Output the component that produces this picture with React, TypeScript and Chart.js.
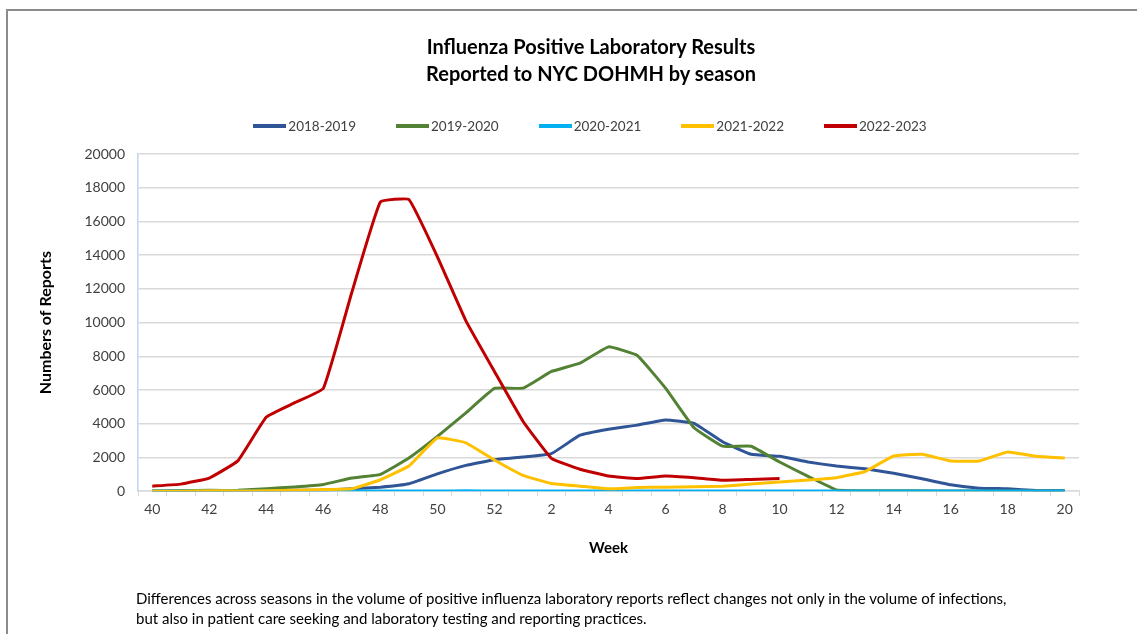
import React, { useEffect, useRef } from "react";
import { Chart, registerables } from "chart.js";

Chart.register(...registerables);

const weeks: string[] = [
  "40", "41", "42", "43", "44", "45", "46", "47", "48", "49", "50", "51", "52",
  "1", "2", "3", "4", "5", "6", "7", "8", "9", "10", "11", "12", "13", "14",
  "15", "16", "17", "18", "19", "20",
];

const s2018: (number | null)[] = [
  10, 20, 30, 30, 40, 50, 60, 140, 240, 440, 1030, 1530, 1870, 2030, 2230,
  3320, 3680, 3920, 4220, 4020, 2930, 2190, 2070, 1730, 1490, 1330, 1070, 740,
  380, 180, 140, 40, 20,
];

const s2019: (number | null)[] = [
  0, 20, 50, 50, 150, 250, 400, 780, 1000, 1970, 3250, 4650, 6100, 6110, 7100,
  7600, 8560, 8060, 6110, 3760, 2670, 2670, 1730, 880, 80, 30, 20, 20, 10, 10,
  10, 10, 10,
];

const s2020: (number | null)[] = [
  10, 10, 10, 10, 10, 10, 10, 10, 10, 10, 10, 20, 10, 10, 10, 10, 20, 10, 10,
  10, 10, 10, 10, 10, 10, 10, 10, 10, 10, 10, 10, 10, 10,
];

const s2021: (number | null)[] = [
  0, 0, 30, 10, 20, 50, 100, 140, 680, 1490, 3160, 2870, 1850, 940, 460, 300,
  140, 220, 240, 260, 300, 420, 540, 660, 800, 1170, 2090, 2190, 1790, 1790,
  2330, 2070, 1970,
];

const s2022: (number | null)[] = [
  300, 420, 780, 1800, 4400, 5250, 6100, 11800, 17150, 17300, 13900, 10100,
  7100, 4150, 1950, 1300, 900, 750, 900, 800, 650, 700, 750,
];

const seriesNames: string[] = ["2018-2019", "2019-2020", "2020-2021", "2021-2022", "2022-2023"];
const seriesColors: string[] = ["#2F5597", "#548235", "#00B0F0", "#FFC000", "#C00000"];
const seriesData = [s2018, s2019, s2020, s2021, s2022];

const yTicks: number[] = [0, 2000, 4000, 6000, 8000, 10000, 12000, 14000, 16000, 18000, 20000];

const titleLines: string[] = ["Influenza Positive Laboratory Results", "Reported to NYC DOHMH by season"];
const footnoteLines: string[] = [
  "Differences across seasons in the volume of positive influenza laboratory reports reflect changes not only in the volume of infections,",
  "but also in patient care seeking and laboratory testing and reporting practices.",
];

const FONT = "Lato, 'Open Sans', sans-serif";

export default function App() {
  const ref = useRef<HTMLCanvasElement | null>(null);

  useEffect(() => {
    if (!ref.current) return;
    const chart = new Chart(ref.current, {
      type: "line",
      data: {
        labels: weeks,
        datasets: seriesNames.map((name, i) => ({
          label: name,
          data: seriesData[i],
          borderColor: seriesColors[i],
          backgroundColor: seriesColors[i],
          borderWidth: 3,
          pointRadius: 0,
          pointHoverRadius: 0,
          tension: 0.1,
          fill: false,
          order: seriesNames.length - i,
        })),
      },
      options: {
        animation: false,
        responsive: false,
        maintainAspectRatio: false,
        layout: { padding: { left: 36, right: 58, top: 154, bottom: 77 } },
        plugins: {
          title: { display: false },
          legend: { display: false },
          tooltip: { enabled: false },
        },
        scales: {
          x: {
            offset: true,
            grid: {
              display: true,
              drawOnChartArea: false,
              drawTicks: true,
              tickLength: 5,
              color: "#D9D9D9",
              offset: true,
            },
            border: { display: true, color: "#D9D9D9", width: 1.5 },
            ticks: {
              autoSkip: false,
              maxRotation: 0,
              color: "#404040",
              font: { family: FONT, size: 14 },
              padding: 5,
              callback: function (_v: any, index: number) {
                return index % 2 === 0 ? weeks[index] : "";
              },
            },
            title: {
              display: true,
              text: "Week",
              color: "#000000",
              font: { family: FONT, size: 15, weight: "bold" },
              padding: { top: 16, bottom: 0 },
            },
          },
          y: {
            min: 0,
            max: 20000,
            afterBuildTicks: (scale: any) => {
              scale.ticks = yTicks.map((v) => ({ value: v }));
            },
            afterFit: (scale: any) => {
              scale.width = 102;
            },
            grid: { color: "#D9D9D9", lineWidth: 1.5, drawTicks: false },
            border: { display: true, color: "#BDD7EE", width: 1.5 },
            ticks: {
              color: "#404040",
              font: { family: FONT, size: 14 },
              padding: 13,
              callback: (v: any) => String(v),
            },
            title: {
              display: true,
              text: "Numbers of Reports",
              color: "#000000",
              font: { family: FONT, size: 16, weight: "bold" },
              padding: { top: 0, bottom: 0 },
            },
          },
        },
      },
    });
    return () => chart.destroy();
  }, []);

  return (
    <div style={{ position: "absolute", left: 0, top: 0, width: 1137, height: 634, background: "#fff", overflow: "hidden" }}>
      <div
        style={{
          position: "absolute",
          left: 6,
          top: 9,
          width: 1140,
          height: 640,
          borderTop: "2px solid #8c8c8c",
          borderLeft: "2px solid #8c8c8c",
        }}
      />
      <canvas ref={ref} width={1137} height={634} style={{ position: "absolute", left: 0, top: 0 }} />
      <div
        style={{
          position: "absolute",
          left: 0,
          top: 33,
          width: 1182,
          textAlign: "center",
          fontFamily: FONT,
          fontSize: 20,
          fontWeight: "bold",
          lineHeight: "27px",
          color: "#000",
        }}
      >
        {titleLines.map((t) => (
          <div key={t}>{t}</div>
        ))}
      </div>
      <div
        style={{
          position: "absolute",
          left: 0,
          top: 116,
          width: 1180,
          height: 20,
          display: "flex",
          justifyContent: "center",
          alignItems: "center",
          gap: 40,
          fontFamily: FONT,
          fontSize: 13.5,
          color: "#404040",
        }}
      >
        {seriesNames.map((name, i) => (
          <div key={name} style={{ display: "flex", alignItems: "center" }}>
            <span style={{ display: "inline-block", width: 33, height: 3.5, background: seriesColors[i], marginRight: 2 }} />
            <span>{name}</span>
          </div>
        ))}
      </div>
      <div
        style={{
          position: "absolute",
          left: 136,
          top: 588,
          fontFamily: FONT,
          fontSize: 15,
          lineHeight: "20px",
          color: "#000",
          whiteSpace: "nowrap",
        }}
      >
        {footnoteLines.map((t) => (
          <div key={t}>{t}</div>
        ))}
      </div>
    </div>
  );
}
